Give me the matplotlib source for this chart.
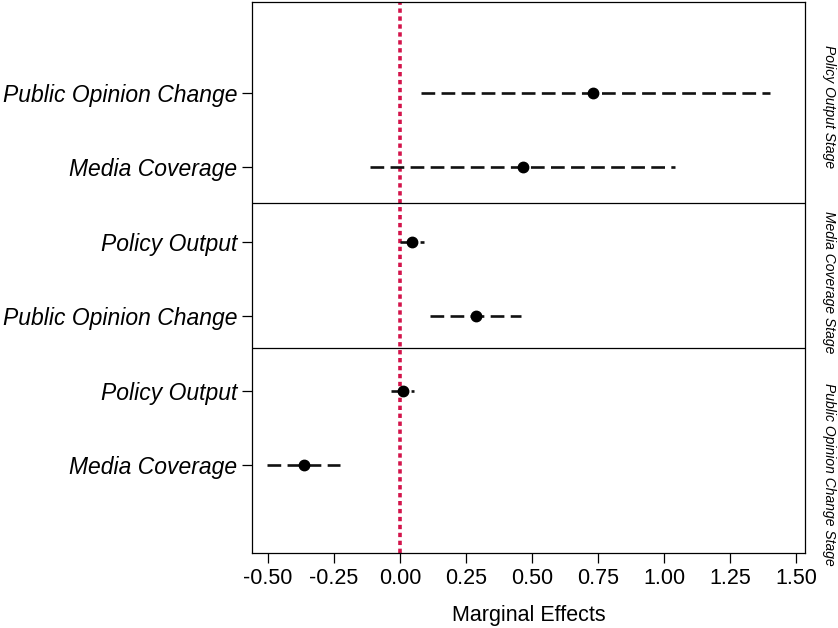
import matplotlib
matplotlib.use("Agg")
import matplotlib.pyplot as plt

plt.rcParams['font.family'] = ['Liberation Sans', 'DejaVu Sans']

# rows from top to bottom, grouped by stage
labels = ["Public Opinion Change", "Media Coverage",
          "Policy Output", "Public Opinion Change",
          "Policy Output", "Media Coverage"]
estimates = [0.73, 0.465, 0.046, 0.287, 0.011, -0.364]
lower = [0.08, -0.115, 0.0, 0.114, -0.032, -0.503]
upper = [1.40, 1.042, 0.09, 0.46, 0.053, -0.225]
stages = ["Policy Output Stage", "Media Coverage Stage", "Public Opinion Change Stage"]
xticks = [-0.5, -0.25, 0, 0.25, 0.5, 0.75, 1.0, 1.25, 1.5]

ypos = [6, 5, 4, 3, 2, 1]

fig = plt.figure(figsize=(8.38, 6.28), dpi=100)
ax = fig.add_axes([0.3007, 0.1194, 0.66, 0.8774])

ax.axvline(0, color='#d3134a', lw=2.6, ls=(0, (1.2, 1.0)), zorder=1)
for y, est, lo, hi in zip(ypos, estimates, lower, upper):
    ax.plot([lo, hi], [y, y], color='#111111', lw=1.9, ls=(0, (5.2, 2.4)), zorder=2)
    ax.plot(est, y, 'o', color='black', ms=7.5, zorder=3)

for sep in [4.52, 2.57]:
    ax.axhline(sep, color='black', lw=0.9)

ax.set_xlim(-0.56, 1.534)
ax.set_ylim(-0.18, 7.22)
ax.set_xticks(xticks)
ax.set_xticklabels(["%.2f" % t for t in xticks], fontsize=15.5)
ax.set_yticks(ypos)
ax.set_yticklabels(labels, fontsize=16.5, style='italic')
ax.tick_params(length=7, width=0.9, direction='out')
ax.set_xlabel("Marginal Effects", fontsize=15.5, labelpad=12)
for s in ax.spines.values():
    s.set_linewidth(0.9)

for txt, yc in zip(stages, [107, 282, 474]):
    fig.text(0.989, 1 - yc / 628, txt, rotation=-90, style='italic',
             fontsize=10, ha='center', va='center')

fig.savefig("out.png", dpi=100)
